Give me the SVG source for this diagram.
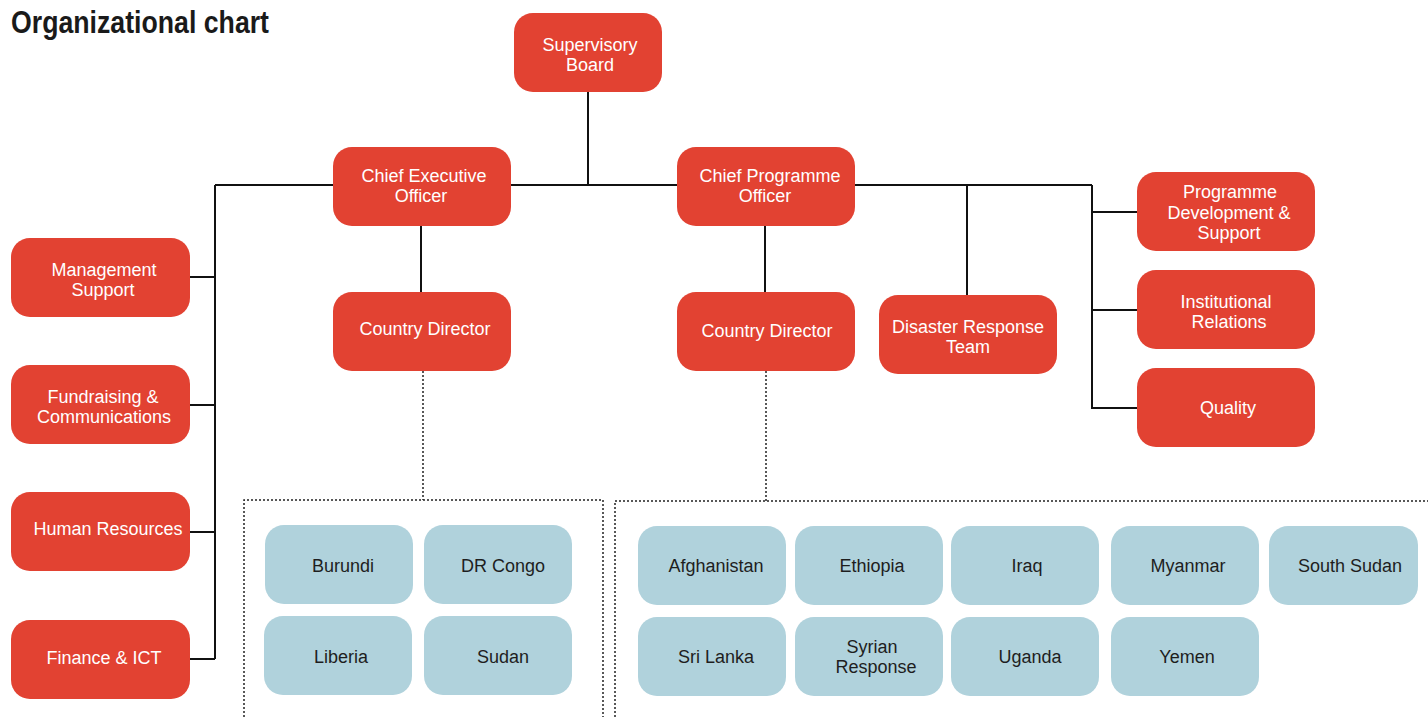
<svg xmlns="http://www.w3.org/2000/svg" width="1428" height="717" viewBox="0 0 1428 717">
<style>
.r{fill:#e24232}
.b{fill:#b0d2dc}
.t{font-family:"Liberation Sans",Arial,sans-serif;font-size:18px;fill:#fff;text-anchor:middle}
.c{font-family:"Liberation Sans",Arial,sans-serif;font-size:18px;fill:#1e1e1e;text-anchor:middle}
.ln{stroke:#111;stroke-width:2;fill:none}
.dt{stroke:#222;stroke-width:1.5;fill:none;stroke-dasharray:2 2}
</style>
<rect width="1428" height="717" fill="#fff"/>
<text x="11" y="33" font-family="'Liberation Sans Narrow','Liberation Sans',Arial,sans-serif" font-weight="bold" font-size="31" fill="#1a1a1a" textLength="258" lengthAdjust="spacingAndGlyphs">Organizational chart</text>
<g id="connectors">
<polyline class="ln" points="588,92 588,185"/>
<polyline class="ln" points="215,185 1092,185"/>
<polyline class="ln" points="215,185 215,659"/>
<polyline class="ln" points="190,277 215,277"/>
<polyline class="ln" points="190,405 215,405"/>
<polyline class="ln" points="190,532 215,532"/>
<polyline class="ln" points="190,659 215,659"/>
<polyline class="ln" points="421,226 421,292"/>
<polyline class="ln" points="765,226 765,292"/>
<polyline class="ln" points="967,185 967,295"/>
<polyline class="ln" points="1092,185 1092,408 1137,408"/>
<polyline class="ln" points="1092,212 1137,212"/>
<polyline class="ln" points="1092,310 1137,310"/>
<polyline class="dt" points="423,371 423,500"/>
<polyline class="dt" points="766,371 766,501"/>
<polyline class="dt" points="244,717 244,500 603,500 603,717"/>
<polyline class="dt" points="615,717 615,501 1428,501"/>
</g>
<g id="supervisory-board"><rect class="r" x="514" y="13" width="148" height="79" rx="19"/><text class="t" x="590" y="51">Supervisory</text><text class="t" x="590" y="71">Board</text></g>
<g id="ceo"><rect class="r" x="333" y="147" width="178" height="79" rx="19"/><text class="t" x="424" y="182">Chief Executive</text><text class="t" x="421" y="202">Officer</text></g>
<g id="cpo"><rect class="r" x="677" y="147" width="178" height="79" rx="19"/><text class="t" x="770" y="182">Chief Programme</text><text class="t" x="765" y="202">Officer</text></g>
<g id="management-support"><rect class="r" x="11" y="238" width="179" height="79" rx="19"/><text class="t" x="104" y="276">Management</text><text class="t" x="103" y="296">Support</text></g>
<g id="fundraising"><rect class="r" x="11" y="365" width="179" height="79" rx="19"/><text class="t" x="103" y="403">Fundraising &amp;</text><text class="t" x="104" y="423">Communications</text></g>
<g id="human-resources"><rect class="r" x="11" y="492" width="179" height="79" rx="19"/><text class="t" x="108" y="535">Human Resources</text></g>
<g id="finance-ict"><rect class="r" x="11" y="620" width="179" height="79" rx="19"/><text class="t" x="104" y="664">Finance &amp; ICT</text></g>
<g id="country-director-1"><rect class="r" x="333" y="292" width="178" height="79" rx="19"/><text class="t" x="425" y="335">Country Director</text></g>
<g id="country-director-2"><rect class="r" x="677" y="292" width="178" height="79" rx="19"/><text class="t" x="767" y="337">Country Director</text></g>
<g id="disaster-response"><rect class="r" x="879" y="295" width="178" height="79" rx="19"/><text class="t" x="968" y="333">Disaster Response</text><text class="t" x="968" y="353">Team</text></g>
<g id="programme-development"><rect class="r" x="1137" y="172" width="178" height="79" rx="19"/><text class="t" x="1230" y="198">Programme</text><text class="t" x="1229" y="219">Development &amp;</text><text class="t" x="1229" y="239">Support</text></g>
<g id="institutional-relations"><rect class="r" x="1137" y="270" width="178" height="79" rx="19"/><text class="t" x="1226" y="308">Institutional</text><text class="t" x="1229" y="328">Relations</text></g>
<g id="quality"><rect class="r" x="1137" y="368" width="178" height="79" rx="19"/><text class="t" x="1228" y="414">Quality</text></g>
<g id="burundi"><rect class="b" x="265" y="525" width="148" height="79" rx="19"/><text class="c" x="343" y="572">Burundi</text></g>
<g id="dr-congo"><rect class="b" x="424" y="525" width="148" height="79" rx="19"/><text class="c" x="503" y="572">DR Congo</text></g>
<g id="liberia"><rect class="b" x="264" y="616" width="148" height="79" rx="19"/><text class="c" x="341" y="663">Liberia</text></g>
<g id="sudan"><rect class="b" x="424" y="616" width="148" height="79" rx="19"/><text class="c" x="503" y="663">Sudan</text></g>
<g id="afghanistan"><rect class="b" x="638" y="526" width="148" height="79" rx="19"/><text class="c" x="716" y="572">Afghanistan</text></g>
<g id="ethiopia"><rect class="b" x="795" y="526" width="148" height="79" rx="19"/><text class="c" x="872" y="572">Ethiopia</text></g>
<g id="iraq"><rect class="b" x="951" y="526" width="148" height="79" rx="19"/><text class="c" x="1027" y="572">Iraq</text></g>
<g id="myanmar"><rect class="b" x="1111" y="526" width="148" height="79" rx="19"/><text class="c" x="1188" y="572">Myanmar</text></g>
<g id="south-sudan"><rect class="b" x="1269" y="526" width="149" height="79" rx="19"/><text class="c" x="1350" y="572">South Sudan</text></g>
<g id="sri-lanka"><rect class="b" x="638" y="617" width="148" height="79" rx="19"/><text class="c" x="716" y="663">Sri Lanka</text></g>
<g id="syrian-response"><rect class="b" x="795" y="617" width="148" height="79" rx="19"/><text class="c" x="872" y="653">Syrian</text><text class="c" x="876" y="673">Response</text></g>
<g id="uganda"><rect class="b" x="951" y="617" width="148" height="79" rx="19"/><text class="c" x="1030" y="663">Uganda</text></g>
<g id="yemen"><rect class="b" x="1111" y="617" width="148" height="79" rx="19"/><text class="c" x="1187" y="663">Yemen</text></g>
</svg>
